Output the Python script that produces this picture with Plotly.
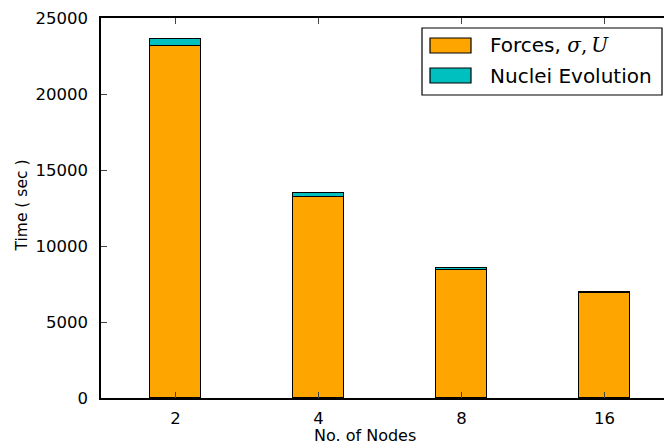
import plotly.graph_objects as go

# Wall-clock time per run, split into the two solver phases
nodes = ["2", "4", "8", "16"]
forces_time = [23150, 13250, 8450, 6880]
nuclei_time = [450, 210, 110, 90]
y_ticks = [0, 5000, 10000, 15000, 20000, 25000]
y_labels = [str(v) for v in y_ticks]

ORANGE = "#FFA500"
TEAL = "#00BFBF"
FONT = "DejaVu Sans"
INK = "#000"

W, H = 664, 445
ML, MR, MT, MB = 101, 0, 18, 47

fig = go.Figure()
fig.add_trace(go.Bar(x=nodes, y=forces_time, width=0.35, name="Forces",
                     marker=dict(color=ORANGE, line=dict(color="black", width=1.5))))
fig.add_trace(go.Bar(x=nodes, y=nuclei_time, width=0.35, name="Nuclei Evolution",
                     marker=dict(color=TEAL, line=dict(color="black", width=1.5))))

# pixel -> paper helpers for the legend box and axis titles
pw = W - ML - MR
ph = H - MT - MB
def px(x):
    return (x - ML) / pw
def py(y):
    return (H - MB - y) / ph

shapes = [
    dict(type="rect", xref="paper", yref="paper", x0=px(422), x1=px(662), y0=py(95), y1=py(28),
         line=dict(color="black", width=1.2), fillcolor="white", layer="above"),
    dict(type="rect", xref="paper", yref="paper", x0=px(430), x1=px(471), y0=py(53), y1=py(38),
         line=dict(color="black", width=1.2), fillcolor=ORANGE, layer="above"),
    dict(type="rect", xref="paper", yref="paper", x0=px(430), x1=px(471), y0=py(83), y1=py(68),
         line=dict(color="black", width=1.2), fillcolor=TEAL, layer="above"),
]
math = '<span style="font-family:\'DejaVu Serif\'"><i>σ</i>,\u2009<i>U</i></span>'
annotations = [
    dict(xref="paper", yref="paper", x=px(488), y=py(45.5), xanchor="left", yanchor="middle",
         text="Forces, " + math, showarrow=False, font=dict(family=FONT, size=20, color=INK)),
    dict(xref="paper", yref="paper", x=px(488), y=py(76), xanchor="left", yanchor="middle",
         text="Nuclei Evolution", showarrow=False, font=dict(family=FONT, size=20, color=INK)),
    # axis titles
    dict(xref="paper", yref="paper", x=px(365), y=py(435), xanchor="center", yanchor="middle",
         text="No. of Nodes", showarrow=False, font=dict(family=FONT, size=16, color=INK)),
    dict(xref="paper", yref="paper", x=px(21), y=py(205.5), xanchor="center", yanchor="middle",
         text="Time ( sec )", textangle=-90, showarrow=False,
         font=dict(family=FONT, size=15.5, color=INK)),
]

fig.update_layout(
    width=W, height=H,
    margin=dict(l=ML, r=MR, t=MT, b=MB, pad=0),
    barmode="stack",
    bargap=0,
    showlegend=False,
    plot_bgcolor="white", paper_bgcolor="white",
    font=dict(family=FONT, size=16.5, color=INK),
    shapes=shapes,
    annotations=annotations,
)
fig.update_xaxes(
    range=[-0.521, 3.416],
    showline=True, linecolor="black", linewidth=1.5, mirror="ticks",
    ticks="inside", ticklen=6, tickcolor="#444", tickwidth=1,
    showgrid=False, zeroline=False,
    tickfont=dict(size=16.5),
    ticklabelstandoff=4,
)
fig.update_yaxes(
    range=[0, 25000],
    tickvals=y_ticks, ticktext=y_labels,
    showline=True, linecolor="black", linewidth=1.5,
    ticks="inside", ticklen=6, tickcolor="#444", tickwidth=1,
    showgrid=False, zeroline=False,
    tickfont=dict(size=16.5),
    ticklabelstandoff=8,
)

fig.write_html("out.html")
